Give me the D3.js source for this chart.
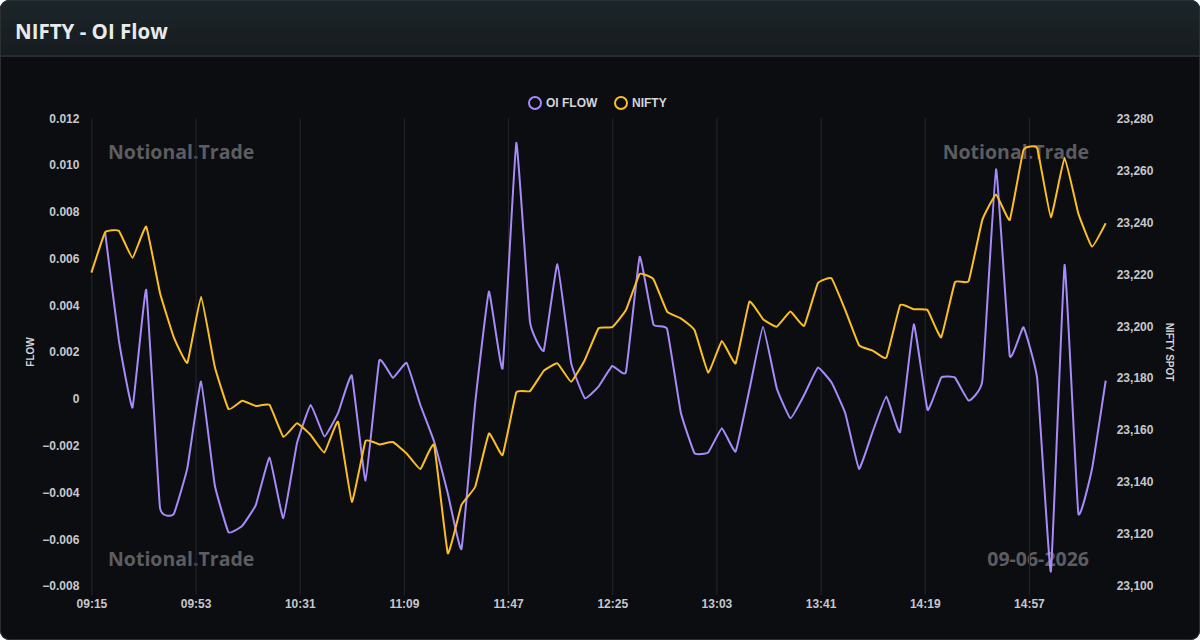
<!DOCTYPE html>
<html>
<head>
<meta charset="utf-8">
<script src="https://cdn.jsdelivr.net/npm/d3@7"></script>
<style>
  html, body { margin: 0; padding: 0; background: #ffffff; }
  svg { display: block; }
</style>
</head>
<body>
<svg id="svg" width="1200" height="640"></svg>
<script>
// data, one point every 5 minutes
var times = [
  "09:15","09:20","09:25","09:30","09:35","09:40","09:45","09:50","09:55","10:00",
  "10:05","10:10","10:15","10:20","10:25","10:30","10:35","10:40","10:45","10:50",
  "10:55","11:00","11:05","11:10","11:15","11:20","11:25","11:30","11:35","11:40",
  "11:45","11:50","11:55","12:00","12:05","12:10","12:15","12:20","12:25","12:30",
  "12:35","12:40","12:45","12:50","12:55","13:00","13:05","13:10","13:15","13:20",
  "13:25","13:30","13:35","13:40","13:45","13:50","13:55","14:00","14:05","14:10",
  "14:15","14:20","14:25","14:30","14:35","14:40","14:45","14:50","14:55","15:00",
  "15:05","15:10","15:15","15:20","15:25"
];

var oiFlow = [
  null, 0.00712, 0.00252, -0.00037, 0.00466, -0.00463, -0.00493, -0.00296, 0.00074, -0.00368,
  -0.00570, -0.00543, -0.00453, -0.00251, -0.00510, -0.00189, -0.00026, -0.00161, -0.00060, 0.00100,
  -0.00349, 0.00164, 0.00090, 0.00154, -0.00026, -0.00182, -0.00403, -0.00642, -0.00018, 0.00459,
  0.00131, 0.01095, 0.00328, 0.00206, 0.00576, 0.00153, 0.00003, 0.00053, 0.00141, 0.00115,
  0.00608, 0.00319, 0.00299, -0.00058, -0.00232, -0.00229, -0.00125, -0.00225, 0.00038, 0.00309,
  0.00046, -0.00083, 0.00017, 0.00134, 0.00070, -0.00061, -0.00299, -0.00140, 0.00010, -0.00142,
  0.00319, -0.00047, 0.00091, 0.00091, -0.00007, 0.00078, 0.00982, 0.00184, 0.00306, 0.00088,
  -0.00738, 0.00573, -0.00488, -0.00300, 0.00078
];

var niftySpot = [
  23220.6, 23236.1, 23236.7, 23226.3, 23238.3, 23212.9, 23195.9, 23185.9, 23211.3, 23184.4,
  23168.1, 23171.3, 23169.3, 23169.7, 23157.4, 23162.6, 23158.1, 23151.4, 23163.2, 23132.4,
  23155.8, 23154.5, 23155.4, 23151.0, 23145.0, 23154.3, 23112.6, 23131.2, 23138.2, 23158.7,
  23150.4, 23174.5, 23175.0, 23182.8, 23185.7, 23178.6, 23187.0, 23199.2, 23199.6, 23206.2,
  23220.1, 23218.1, 23205.6, 23203.0, 23198.5, 23182.1, 23194.3, 23185.7, 23209.4, 23202.7,
  23199.8, 23205.6, 23200.1, 23216.5, 23218.4, 23206.2, 23192.7, 23190.6, 23187.9, 23208.1,
  23206.5, 23206.2, 23195.7, 23216.9, 23217.3, 23240.9, 23250.7, 23240.9, 23267.8, 23268.5,
  23241.9, 23264.8, 23243.4, 23230.6, 23239.6
];

var xTickLabels = ["09:15","09:53","10:31","11:09","11:47","12:25","13:03","13:41","14:19","14:57"];
var flowTicks = [-0.008, -0.006, -0.004, -0.002, 0, 0.002, 0.004, 0.006, 0.008, 0.010, 0.012];
var spotTicks = [23100, 23120, 23140, 23160, 23180, 23200, 23220, 23240, 23260, 23280];

var seriesNames = ["OI FLOW", "NIFTY"];
var seriesColors = ["#a78bfa", "#fbbf24"];

//////////////////////////////////////////////////////////////////////////////

function toMinutes(t) {
    var p = t.split(":");
    return +p[0] * 60 + +p[1];
}

var W = 1200, H = 640;
var plot = { left: 91.4, right: 1105.7, top: 118.3, bottom: 586 };

var svg = d3.select("#svg");
var defs = svg.append("defs");

var hg = defs.append("linearGradient").attr("id", "hdr")
    .attr("x1", 0).attr("y1", 0).attr("x2", 0).attr("y2", 1);
hg.append("stop").attr("offset", "0%").attr("stop-color", "#1b262a");
hg.append("stop").attr("offset", "100%").attr("stop-color", "#171b1f");

defs.append("clipPath").attr("id", "card")
    .append("rect").attr("x", 0).attr("y", 0).attr("width", W).attr("height", H).attr("rx", 9);

var card = svg.append("g").attr("clip-path", "url(#card)");
card.append("rect").attr("width", W).attr("height", H).attr("fill", "#0c0d11");
card.append("rect").attr("width", W).attr("height", 56).attr("fill", "url(#hdr)");
card.append("rect").attr("y", 55).attr("width", W).attr("height", 2).attr("fill", "#262c30");
svg.append("rect").attr("x", 0.5).attr("y", 0.5).attr("width", W - 1).attr("height", H - 1)
    .attr("rx", 9).attr("fill", "none").attr("stroke", "#2a3034");

svg.append("text")
    .attr("x", 15).attr("y", 38.5)
    .attr("font-family", "'Open Sans', 'Noto Sans', sans-serif")
    .attr("font-weight", 700).attr("font-size", 20.5)
    .attr("fill", "#e8eaeb")
    .text("NIFTY - OI Flow");

// scales
var x = d3.scaleLinear()
    .domain([toMinutes(times[0]), toMinutes(times[times.length - 1])])
    .range([plot.left, plot.right]);
var yFlow = d3.scaleLinear().domain([-0.008, 0.012]).range([plot.bottom, plot.top]);
var ySpot = d3.scaleLinear().domain([23100, 23280]).range([plot.bottom, plot.top]);

var tickFont = "'Liberation Sans', Arial, sans-serif";
var tickColor = "#c5c8ce";

// watermarks
var wm = svg.append("g")
    .attr("font-family", "'Open Sans', 'Noto Sans', sans-serif")
    .attr("font-weight", 700).attr("font-size", 19.5)
    .attr("fill", "#5c5d60");
wm.append("text").attr("x", 108).attr("y", 158.5).text("Notional.Trade");
wm.append("text").attr("x", 1089).attr("y", 158.5).attr("text-anchor", "end").text("Notional.Trade");
wm.append("text").attr("x", 108).attr("y", 565.5).text("Notional.Trade");
wm.append("text").attr("x", 1089).attr("y", 565.5).attr("text-anchor", "end").text("09-06-2026");

// x axis with vertical grid
var xAxis = d3.axisBottom(x)
    .tickValues(xTickLabels.map(toMinutes))
    .tickFormat(function(d, i) { return xTickLabels[i]; })
    .tickSizeOuter(0);

var gx = svg.append("g")
    .attr("transform", "translate(0," + (plot.bottom + 9) + ")")
    .call(xAxis);
gx.select(".domain").remove();
gx.selectAll(".tick line")
    .attr("y1", 0).attr("y2", -(plot.bottom + 9 - plot.top))
    .attr("stroke", "#24272c").attr("stroke-width", 1);
gx.selectAll(".tick text")
    .attr("y", 13).attr("dy", 0)
    .attr("font-family", tickFont).attr("font-size", 12).attr("font-weight", 700)
    .attr("fill", tickColor);

var gyl = svg.append("g")
    .attr("transform", "translate(" + plot.left + ",0)")
    .call(d3.axisLeft(yFlow).tickValues(flowTicks).tickSize(0).tickPadding(12)
        .tickFormat(function(d) { return d === 0 ? "0" : d3.format(".3f")(d); }));
gyl.select(".domain").remove();
gyl.selectAll(".tick text")
    .attr("font-family", tickFont).attr("font-size", 12).attr("font-weight", 700)
    .attr("fill", tickColor);

var gyr = svg.append("g")
    .attr("transform", "translate(" + plot.right + ",0)")
    .call(d3.axisRight(ySpot).tickValues(spotTicks).tickSize(0).tickPadding(11)
        .tickFormat(d3.format(",")));
gyr.select(".domain").remove();
gyr.selectAll(".tick text")
    .attr("font-family", tickFont).attr("font-size", 12).attr("font-weight", 700)
    .attr("fill", tickColor);

svg.append("text")
    .attr("transform", "translate(34,352) rotate(-90)")
    .attr("text-anchor", "middle")
    .attr("font-family", tickFont).attr("font-size", 10).attr("font-weight", 700)
    .attr("fill", "#d0d3d8")
    .text("FLOW");
svg.append("text")
    .attr("transform", "translate(1166,352) rotate(90)")
    .attr("text-anchor", "middle")
    .attr("font-family", tickFont).attr("font-size", 10).attr("font-weight", 700)
    .attr("fill", "#d0d3d8")
    .text("NIFTY SPOT");

// lines (light smoothing, corners stay fairly sharp)
var curve = d3.curveCardinal.tension(0.7);

var flowLine = d3.line()
    .defined(function(d) { return d != null; })
    .x(function(d, i) { return x(toMinutes(times[i])); })
    .y(function(d) { return yFlow(d); })
    .curve(curve);

var spotLine = d3.line()
    .x(function(d, i) { return x(toMinutes(times[i])); })
    .y(function(d) { return ySpot(d); })
    .curve(curve);

svg.append("path").datum(oiFlow)
    .attr("d", flowLine)
    .attr("fill", "none").attr("stroke", seriesColors[0]).attr("stroke-width", 2)
    .attr("stroke-linejoin", "round");

svg.append("path").datum(niftySpot)
    .attr("d", spotLine)
    .attr("fill", "none").attr("stroke", seriesColors[1]).attr("stroke-width", 2)
    .attr("stroke-linejoin", "round");

// legend
var legendX = [535, 621];
var lg = svg.append("g").selectAll("g")
    .data(seriesNames)
    .enter()
    .append("g")
    .attr("transform", function(d, i) { return "translate(" + legendX[i] + ",103)"; });
lg.append("circle")
    .attr("r", 6)
    .attr("fill", "none")
    .attr("stroke", function(d, i) { return seriesColors[i]; })
    .attr("stroke-width", 2);
lg.append("text")
    .attr("x", 11).attr("dy", "0.35em")
    .attr("font-family", tickFont).attr("font-size", 12).attr("font-weight", 700)
    .attr("fill", "#d4d6da")
    .text(function(d) { return d; });
</script>
</body>
</html>
